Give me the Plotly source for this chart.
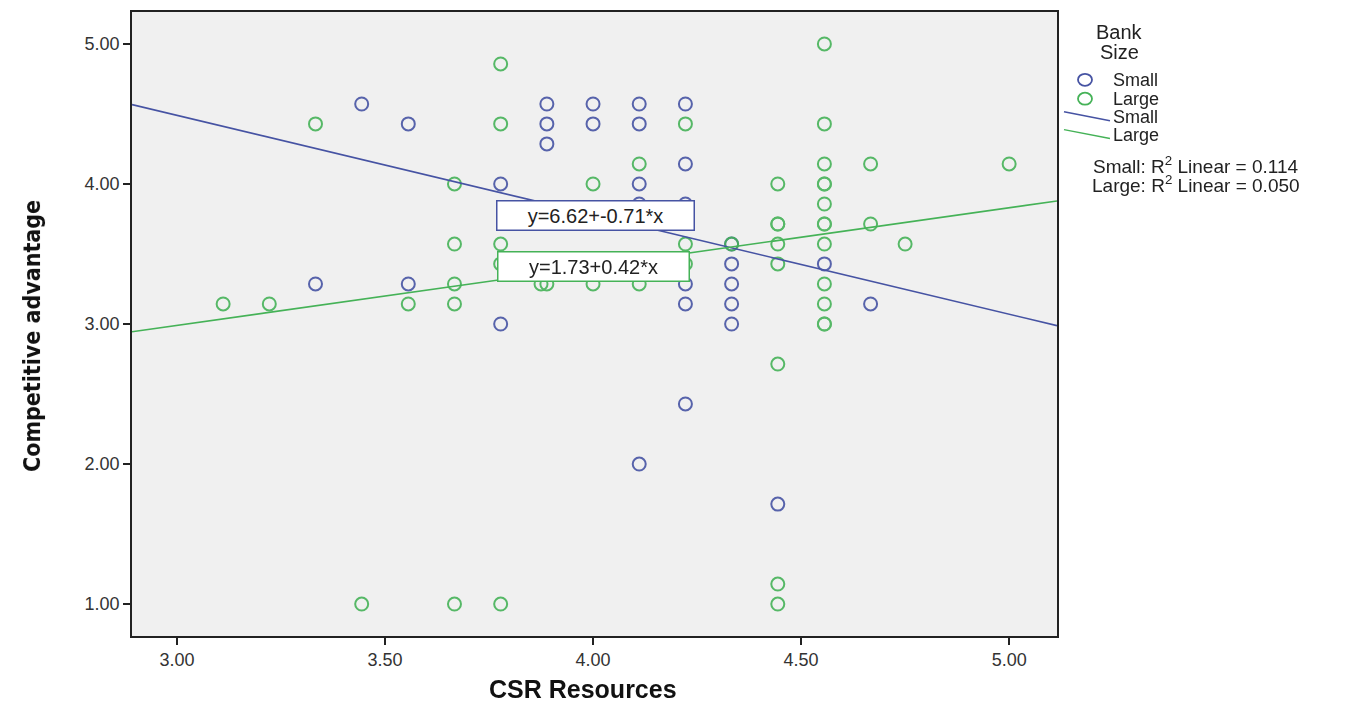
import plotly.graph_objects as go

# ---- data ----
small_x = [3.444, 3.556, 3.333, 3.556, 3.778, 3.778, 3.889, 3.889, 3.889, 4.0, 4.0,
           4.111, 4.111, 4.111, 4.111, 4.111, 4.222, 4.222, 4.222, 4.222, 4.222, 4.222,
           4.333, 4.333, 4.333, 4.333, 4.333, 4.444, 4.556, 4.667]
small_y = [4.571, 4.429, 3.286, 3.286, 4.0, 3.0, 4.571, 4.429, 4.286, 4.571, 4.429,
           4.571, 4.429, 4.0, 3.857, 2.0, 4.571, 4.143, 3.857, 3.286, 3.143, 2.429,
           3.571, 3.429, 3.286, 3.143, 3.0, 1.714, 3.429, 3.143]

large_x = [3.111, 3.222, 3.333, 3.444, 3.556, 3.667, 3.667, 3.667, 3.667, 3.667,
           3.778, 3.778, 3.778, 3.778, 3.778, 3.875, 3.889, 4.0, 4.0, 4.111, 4.111,
           4.222, 4.222, 4.222, 4.333, 4.444, 4.444, 4.444, 4.444, 4.444, 4.444, 4.444,
           4.444, 4.556, 4.556, 4.556, 4.556, 4.556, 4.556, 4.556, 4.556, 4.556, 4.556,
           4.556, 4.556, 4.556, 4.667, 4.667, 4.75, 5.0]
large_y = [3.143, 3.143, 4.429, 1.0, 3.143, 4.0, 3.571, 3.286, 3.143, 1.0,
           4.857, 4.429, 3.571, 3.429, 1.0, 3.286, 3.286, 4.0, 3.286, 4.143, 3.286,
           4.429, 3.571, 3.429, 3.571, 4.0, 3.714, 3.714, 3.571, 3.429, 2.714, 1.143,
           1.0, 5.0, 4.429, 4.143, 4.0, 4.0, 3.857, 3.714, 3.714, 3.571, 3.286,
           3.143, 3.0, 3.0, 4.143, 3.714, 3.571, 4.143]

fit_small = {"intercept": 6.62, "slope": -0.71, "r2": 0.114}
fit_large = {"intercept": 1.73, "slope": 0.42, "r2": 0.050}

x_range = [2.892, 5.115]
y_range = [0.772, 5.228]
tick_vals_x = [3.0, 3.5, 4.0, 4.5, 5.0]
tick_vals_y = [1.0, 2.0, 3.0, 4.0, 5.0]

BLUE = "#4653a3"
GREEN = "#45b257"
FONT = "Liberation Sans, Arial, sans-serif"

fig = go.Figure()

marker_common = dict(symbol="circle-open", size=13, line=dict(width=2))
fig.add_trace(go.Scatter(x=small_x, y=small_y, mode="markers", name="Small",
                         marker=dict(color=BLUE, **marker_common), opacity=0.9))
fig.add_trace(go.Scatter(x=large_x, y=large_y, mode="markers", name="Large",
                         marker=dict(color=GREEN, **marker_common), opacity=0.9))

for fit, col in [(fit_small, BLUE), (fit_large, GREEN)]:
    lx = x_range
    ly = [fit["intercept"] + fit["slope"] * v for v in lx]
    fig.add_trace(go.Scatter(x=lx, y=ly, mode="lines", line=dict(color=col, width=1.6),
                             showlegend=False, hoverinfo="skip"))

# page has an 8px body margin: figure origin sits at (8, 8) on screen
OFF = 8
W, H = 1337, 694
L, T = 124, 2
PW, PH = 925, 626
R = W - L - PW
B = H - T - PH


def px(xs):
    return (xs - OFF - L) / PW


def py(ys):
    return (T + PH - (ys - OFF)) / PH


annotations = []
shapes = []


def eq_text(fit):
    return f"y={fit['intercept']:.2f}+{fit['slope']:.2f}*x"


def ann(xs, ys, text, size, xanchor="center", **kw):
    d = dict(x=px(xs), y=py(ys), xref="paper", yref="paper", text=text, showarrow=False,
             xanchor=xanchor, yanchor="middle",
             font=dict(family=kw.pop("family", FONT), size=size, color=kw.pop("color", "#222")))
    d.update(kw)
    annotations.append(d)


# equation labels
annotations.append(dict(x=4.005, y=3.776, xref="x", yref="y", text=eq_text(fit_small),
                        showarrow=False, bgcolor="white", bordercolor=BLUE, borderwidth=1.5,
                        width=192, height=24, borderpad=2, xanchor="center", yanchor="middle",
                        font=dict(family=FONT, size=20, color="#222")))
annotations.append(dict(x=4.001, y=3.413, xref="x", yref="y", text=eq_text(fit_large),
                        showarrow=False, bgcolor="white", bordercolor=GREEN, borderwidth=1.5,
                        width=186, height=24, borderpad=2, xanchor="center", yanchor="middle",
                        font=dict(family=FONT, size=20, color="#222")))

# axis titles
ann(32, 335, "<b>Competitive advantage</b>", 23, textangle=-90, color="#111",
    family="Liberation Sans Narrow, DejaVu Sans Condensed, Arial Narrow, sans-serif")
ann(583, 689, "<b>CSR Resources</b>", 25, color="#111")

# legend (hand built)
ann(1119, 30, "Bank", 20)
ann(1119, 50, "Size", 20)
for yy, col, lab in [(78, BLUE, "Small"), (97, GREEN, "Large")]:
    shapes.append(dict(type="circle", xref="paper", yref="paper", xsizemode="pixel",
                       ysizemode="pixel", xanchor=px(1085), yanchor=py(yy),
                       x0=-7, x1=7, y0=-6, y1=6, line=dict(color=col, width=1.8)))
    ann(1111, yy, lab, 18, xanchor="left")
for y0, y1, col, lab in [(110, 119, BLUE, "Small"), (128, 137, GREEN, "Large")]:
    shapes.append(dict(type="line", xref="paper", yref="paper", x0=px(1064), x1=px(1110),
                       y0=py(y0), y1=py(y1), line=dict(color=col, width=1.5)))
    ann(1111, (y0 + y1) / 2 + 1, lab, 18, xanchor="left")
for yy, lab, fit in [(163, "Small", fit_small), (183, "Large", fit_large)]:
    ann(1196, yy, f"{lab}: R<sup>2</sup> Linear = {fit['r2']:.3f}", 19)

axis_common = dict(showgrid=False, zeroline=False, showline=True, linecolor="#222",
                   linewidth=1.5, mirror=True, ticks="outside", ticklen=7, tickwidth=1.5,
                   tickcolor="#222", tickformat=".2f",
                   tickfont=dict(family=FONT, size=18, color="#333"))

fig.update_layout(
    width=W, height=H,
    margin=dict(l=L, r=R, t=T, b=B),
    paper_bgcolor="white",
    plot_bgcolor="#f0f0f0",
    showlegend=False,
    xaxis=dict(range=x_range, tickvals=tick_vals_x, **axis_common),
    yaxis=dict(range=y_range, tickvals=tick_vals_y, **axis_common),
    annotations=annotations,
    shapes=shapes,
)

fig.write_html("out.html")
